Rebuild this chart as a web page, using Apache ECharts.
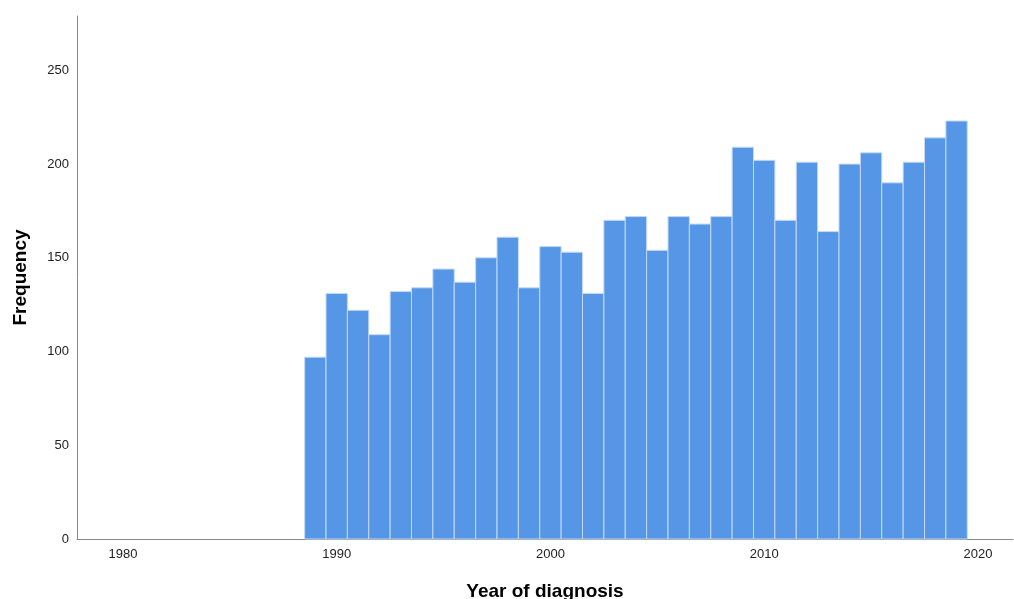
<!DOCTYPE html>
<html>
<head>
<meta charset="utf-8">
<script src="https://cdn.jsdelivr.net/npm/echarts@6/dist/echarts.min.js"></script>
<style>
html,body{margin:0;padding:0;background:#fff;}
#chart{width:1014px;height:599px;}
</style>
</head>
<body>
<div id="chart"></div>
<script>
var years = [1989,1990,1991,1992,1993,1994,1995,1996,1997,1998,1999,2000,2001,2002,2003,2004,2005,2006,2007,2008,2009,2010,2011,2012,2013,2014,2015,2016,2017,2018,2019];
var frequency = [97,131,122,109,132,134,144,137,150,161,134,156,153,131,170,172,154,172,168,172,209,202,170,201,164,200,206,190,201,214,223];
var xTickLabels = [1980,1990,2000,2010,2020];
var yTickLabels = [0,50,100,150,200,250];

var data = years.map(function(y,i){ return [y, frequency[i]]; });

var chart = echarts.init(document.getElementById('chart'));
chart.setOption({
  animation:false,
  backgroundColor:'#ffffff',
  grid:{left:77, right:1, top:16, bottom:60, containLabel:false, outerBoundsMode:'none'},
  xAxis:{
    type:'value',
    min:1977.85, max:2021.64,
    name:'Year of diagnosis',
    nameLocation:'middle',
    nameGap:43,
    nameTextStyle:{fontFamily:'Liberation Sans, Arial', fontWeight:'bold', fontSize:19, color:'#000'},
    axisLine:{show:true, lineStyle:{color:'#888', width:1}},
    axisTick:{show:false},
    splitLine:{show:false},
    axisLabel:{customValues:xTickLabels, formatter:function(v){return String(v);}, fontFamily:'Liberation Sans, Arial', fontSize:13, color:'#222', margin:9}
  },
  yAxis:{
    type:'value',
    min:0, max:279,
    name:'Frequency',
    nameLocation:'middle',
    nameGap:47,
    nameTextStyle:{fontFamily:'Liberation Sans, Arial', fontWeight:'bold', fontSize:19, color:'#000'},
    axisLine:{show:true, lineStyle:{color:'#888', width:1}},
    axisTick:{show:false},
    splitLine:{show:false},
    axisLabel:{customValues:yTickLabels, fontFamily:'Liberation Sans, Arial', fontSize:13, color:'#222', margin:8}
  },
  series:[{
    type:'custom',
    data:data,
    encode:{x:0, y:1},
    renderItem:function(params, api){
      var x = api.value(0), v = api.value(1);
      var p0 = api.coord([x-0.5, v]);
      var p1 = api.coord([x+0.5, 0]);
      return {
        type:'rect',
        shape:{x:p0[0], y:p0[1], width:p1[0]-p0[0], height:p1[1]-p0[1]},
        style:{fill:'#5596e6', stroke:'#c3d9f5', lineWidth:1}
      };
    }
  }]
});
</script>
</body>
</html>
